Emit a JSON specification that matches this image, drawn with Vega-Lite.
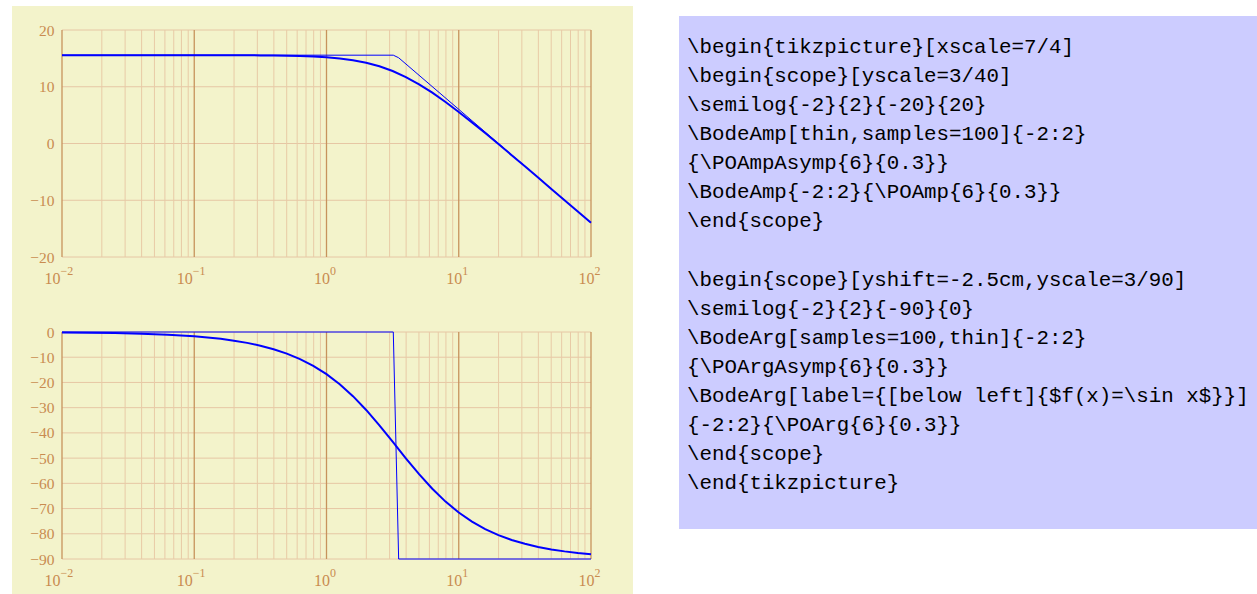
{
  "$schema": "https://vega.github.io/schema/vega-lite/v6.json",
  "padding": {"left": 11, "top": 6, "right": 0, "bottom": 0},
  "background": "white",
  "spacing": 46,
  "config": {
    "view": {"stroke": null},
    "axis": {
      "grid": false, "domain": false, "ticks": false, "tickSize": 0,
      "labelFont": "Liberation Serif, DejaVu Serif, serif", "labelFontSize": 15.5,
      "labelColor": "#c98b50", "zindex": 2, "labelFlush": false, "labelOverlap": false, "labelBound": false, "labelSeparation": 0
    },
    "axisX": {"labelPadding": 12},
    "axisY": {"labelPadding": 8}
  },
  "datasets": {
    "bgTop": [{"x1": 0.004187, "x2": 207.7, "y1": -26.696, "y2": 24.229}],
    "bgBottom": [{"x1": 0.004187, "x2": 207.7, "y1": -103.88, "y2": 15.46}],
    "bgCode": [{"x1": -0.64, "x2": 45.76, "y1": -0.066, "y2": 17.581}],
    "vgrid": [
      {"x": 0.01, "major": true}, {"x": 0.02, "major": false}, {"x": 0.03, "major": false}, {"x": 0.04, "major": false}, {"x": 0.05, "major": false}, {"x": 0.06, "major": false}, {"x": 0.07, "major": false}, {"x": 0.08, "major": false}, {"x": 0.09, "major": false},
      {"x": 0.1, "major": true}, {"x": 0.2, "major": false}, {"x": 0.3, "major": false}, {"x": 0.4, "major": false}, {"x": 0.5, "major": false}, {"x": 0.6, "major": false}, {"x": 0.7, "major": false}, {"x": 0.8, "major": false}, {"x": 0.9, "major": false},
      {"x": 1, "major": true}, {"x": 2, "major": false}, {"x": 3, "major": false}, {"x": 4, "major": false}, {"x": 5, "major": false}, {"x": 6, "major": false}, {"x": 7, "major": false}, {"x": 8, "major": false}, {"x": 9, "major": false},
      {"x": 10, "major": true}, {"x": 20, "major": false}, {"x": 30, "major": false}, {"x": 40, "major": false}, {"x": 50, "major": false}, {"x": 60, "major": false}, {"x": 70, "major": false}, {"x": 80, "major": false}, {"x": 90, "major": false},
      {"x": 100, "major": true}
    ],
    "hgridTop": [{"y": -20}, {"y": -10}, {"y": 0}, {"y": 10}, {"y": 20}],
    "hgridBottom": [{"y": -90}, {"y": -80}, {"y": -70}, {"y": -60}, {"y": -50}, {"y": -40}, {"y": -30}, {"y": -20}, {"y": -10}, {"y": 0}],
    "ampAsym": [{"x": 0.01, "y": 15.563}, {"x": 3.1992, "y": 15.563}, {"x": 3.5124, "y": 15.109}, {"x": 100, "y": -13.984}],
    "amp": [
      {"x": 0.01, "y": 15.563}, {"x": 0.031623, "y": 15.563}, {"x": 0.1, "y": 15.559}, {"x": 0.12589, "y": 15.557},
      {"x": 0.15849, "y": 15.553}, {"x": 0.19953, "y": 15.547}, {"x": 0.25119, "y": 15.538}, {"x": 0.31623, "y": 15.524},
      {"x": 0.39811, "y": 15.501}, {"x": 0.50119, "y": 15.466}, {"x": 0.63096, "y": 15.41}, {"x": 0.79433, "y": 15.323},
      {"x": 1, "y": 15.189}, {"x": 1.2589, "y": 14.984}, {"x": 1.5849, "y": 14.678}, {"x": 1.9953, "y": 14.233},
      {"x": 2.5119, "y": 13.61}, {"x": 3.1623, "y": 12.776}, {"x": 3.9811, "y": 11.713}, {"x": 5.0119, "y": 10.43},
      {"x": 6.3096, "y": 8.951}, {"x": 7.9433, "y": 7.316}, {"x": 10, "y": 5.563}, {"x": 12.589, "y": 3.726},
      {"x": 15.849, "y": 1.833}, {"x": 19.953, "y": -0.099}, {"x": 25.119, "y": -2.055}, {"x": 31.623, "y": -4.027},
      {"x": 39.811, "y": -6.01}, {"x": 50.119, "y": -7.999}, {"x": 63.096, "y": -9.992}, {"x": 79.433, "y": -11.987},
      {"x": 100, "y": -13.984}
    ],
    "argAsym": [{"x": 0.01, "y": 0}, {"x": 3.1992, "y": 0}, {"x": 3.5124, "y": -90}, {"x": 100, "y": -90}],
    "arg": [
      {"x": 0.01, "y": -0.172}, {"x": 0.015849, "y": -0.272}, {"x": 0.025119, "y": -0.432}, {"x": 0.039811, "y": -0.684},
      {"x": 0.063096, "y": -1.084}, {"x": 0.1, "y": -1.718}, {"x": 0.12589, "y": -2.163}, {"x": 0.15849, "y": -2.722},
      {"x": 0.19953, "y": -3.426}, {"x": 0.25119, "y": -4.31}, {"x": 0.31623, "y": -5.419}, {"x": 0.39811, "y": -6.81},
      {"x": 0.50119, "y": -8.551}, {"x": 0.63096, "y": -10.72}, {"x": 0.79433, "y": -13.4}, {"x": 1, "y": -16.7},
      {"x": 1.2589, "y": -20.69}, {"x": 1.5849, "y": -25.43}, {"x": 1.9953, "y": -30.9}, {"x": 2.5119, "y": -37.0},
      {"x": 3.1623, "y": -43.49}, {"x": 3.9811, "y": -50.06}, {"x": 5.0119, "y": -56.37}, {"x": 6.3096, "y": -62.15},
      {"x": 7.9433, "y": -67.24}, {"x": 10, "y": -71.57}, {"x": 12.589, "y": -75.17}, {"x": 15.849, "y": -78.12},
      {"x": 19.953, "y": -80.52}, {"x": 25.119, "y": -82.44}, {"x": 31.623, "y": -83.98}, {"x": 39.811, "y": -85.21},
      {"x": 50.119, "y": -86.19}, {"x": 63.096, "y": -86.98}, {"x": 79.433, "y": -87.6}, {"x": 100, "y": -88.09}
    ],
    "code": [
      {"line": 1, "indent": 0, "text": "\\begin{tikzpicture}[xscale=7/4]"},
      {"line": 2, "indent": 0, "text": "\\begin{scope}[yscale=3/40]"},
      {"line": 3, "indent": 0, "text": "\\semilog{-2}{2}{-20}{20}"},
      {"line": 4, "indent": 0, "text": "\\BodeAmp[thin,samples=100]{-2:2}"},
      {"line": 5, "indent": 0, "text": "{\\POAmpAsymp{6}{0.3}}"},
      {"line": 6, "indent": 0, "text": "\\BodeAmp{-2:2}{\\POAmp{6}{0.3}}"},
      {"line": 7, "indent": 0, "text": "\\end{scope}"},
      {"line": 9, "indent": 0, "text": "\\begin{scope}[yshift=-2.5cm,yscale=3/90]"},
      {"line": 10, "indent": 0, "text": "\\semilog{-2}{2}{-90}{0}"},
      {"line": 11, "indent": 0, "text": "\\BodeArg[samples=100,thin]{-2:2}"},
      {"line": 12, "indent": 0, "text": "{\\POArgAsymp{6}{0.3}}"},
      {"line": 13, "indent": 0, "text": "\\BodeArg[label={[below left]{$f(x)=\\sin x$}}]"},
      {"line": 14, "indent": 0, "text": "{-2:2}{\\POArg{6}{0.3}}"},
      {"line": 15, "indent": 0, "text": "\\end{scope}"},
      {"line": 16, "indent": 0, "text": "\\end{tikzpicture}"}
    ]
  },
  "hconcat": [
    {
      "spacing": -2,
      "vconcat": [
        {
          "width": 529, "height": 227,
          "resolve": {"axis": {"x": "independent"}},
          "layer": [
            {
              "data": {"name": "bgTop"},
              "mark": {"type": "rect", "color": "#f3f3cb", "clip": false},
              "encoding": {
                "x": {"field": "x1", "type": "quantitative", "title": null,
                      "scale": {"type": "log", "domain": [0.01, 100], "nice": false},
                      "axis": {"orient": "bottom", "zindex": 2, "values": [0.01, 0.1, 1, 10, 100], "labelExpr": "'10'", "labelAlign": "right", "labelPadding": 13, "labelFontSize": 16, "labelOverlap": false,
                               "labelOffset": {"condition": {"test": "datum.value < 0.5", "value": -2}, "value": 3}}},
                "x2": {"field": "x2"},
                "y": {"field": "y1", "type": "quantitative", "title": null,
                      "scale": {"domain": [-20, 20], "nice": false, "zero": false},
                      "axis": {"zindex": 2, "values": [-20, -10, 0, 10, 20], "labelOverlap": false}},
                "y2": {"field": "y2"}
              }
            },
            {
              "data": {"name": "hgridTop"},
              "mark": {"type": "rule", "color": "#e6c6a4", "strokeWidth": 1},
              "encoding": {"y": {"field": "y", "type": "quantitative", "title": null, "axis": {"zindex": 2, "values": [-20, -10, 0, 10, 20], "labelOverlap": false}}}
            },
            {
              "data": {"name": "vgrid"},
              "mark": {"type": "rule"},
              "encoding": {
                "x": {"field": "x", "type": "quantitative", "title": null,
                      "axis": {"orient": "bottom", "zindex": 2, "values": [0.01, 0.1, 1, 10, 100], "labelExpr": "datum.value < 0.05 ? '−2' : datum.value < 0.5 ? '−1' : datum.value < 5 ? '0' : datum.value < 50 ? '1' : '2'", "labelAlign": "left", "labelPadding": 8, "labelFontSize": 12, "labelOverlap": false,
                               "labelOffset": {"condition": {"test": "datum.value < 0.5", "value": -2}, "value": 3}}},
                "color": {"condition": {"test": "datum.major", "value": "#c7935c"}, "value": "#e8caa6"},
                "strokeWidth": {"condition": {"test": "datum.major", "value": 1.3}, "value": 1}
              }
            },
            {
              "data": {"name": "ampAsym"},
              "mark": {"type": "line", "color": "#0000ff", "strokeWidth": 1},
              "encoding": {"x": {"field": "x", "type": "quantitative", "title": null, "axis": null}, "y": {"field": "y", "type": "quantitative", "title": null, "axis": {"zindex": 2, "values": [-20, -10, 0, 10, 20], "labelOverlap": false}}}
            },
            {
              "data": {"name": "amp"},
              "mark": {"type": "line", "color": "#0000ff", "strokeWidth": 2},
              "encoding": {"x": {"field": "x", "type": "quantitative", "title": null, "axis": null}, "y": {"field": "y", "type": "quantitative", "title": null, "axis": {"zindex": 2, "values": [-20, -10, 0, 10, 20], "labelOverlap": false}}}
            }
          ]
        },
        {
          "width": 529, "height": 227,
          "resolve": {"axis": {"x": "independent"}},
          "layer": [
            {
              "data": {"name": "bgBottom"},
              "mark": {"type": "rect", "color": "#f3f3cb", "clip": false},
              "encoding": {
                "x": {"field": "x1", "type": "quantitative", "title": null,
                      "scale": {"type": "log", "domain": [0.01, 100], "nice": false},
                      "axis": {"orient": "bottom", "zindex": 2, "values": [0.01, 0.1, 1, 10, 100], "labelExpr": "'10'", "labelAlign": "right", "labelPadding": 13, "labelFontSize": 16, "labelOverlap": false,
                               "labelOffset": {"condition": {"test": "datum.value < 0.5", "value": -2}, "value": 3}}},
                "x2": {"field": "x2"},
                "y": {"field": "y1", "type": "quantitative", "title": null,
                      "scale": {"domain": [-90, 0], "nice": false, "zero": false},
                      "axis": {"zindex": 2, "values": [-90, -80, -70, -60, -50, -40, -30, -20, -10, 0], "labelOverlap": false}},
                "y2": {"field": "y2"}
              }
            },
            {
              "data": {"name": "hgridBottom"},
              "mark": {"type": "rule", "color": "#e6c6a4", "strokeWidth": 1},
              "encoding": {"y": {"field": "y", "type": "quantitative", "title": null, "axis": {"zindex": 2, "values": [-90, -80, -70, -60, -50, -40, -30, -20, -10, 0], "labelOverlap": false}}}
            },
            {
              "data": {"name": "vgrid"},
              "mark": {"type": "rule"},
              "encoding": {
                "x": {"field": "x", "type": "quantitative", "title": null,
                      "axis": {"orient": "bottom", "zindex": 2, "values": [0.01, 0.1, 1, 10, 100], "labelExpr": "datum.value < 0.05 ? '−2' : datum.value < 0.5 ? '−1' : datum.value < 5 ? '0' : datum.value < 50 ? '1' : '2'", "labelAlign": "left", "labelPadding": 8, "labelFontSize": 12, "labelOverlap": false,
                               "labelOffset": {"condition": {"test": "datum.value < 0.5", "value": -2}, "value": 3}}},
                "color": {"condition": {"test": "datum.major", "value": "#c7935c"}, "value": "#e8caa6"},
                "strokeWidth": {"condition": {"test": "datum.major", "value": 1.3}, "value": 1}
              }
            },
            {
              "data": {"name": "argAsym"},
              "mark": {"type": "line", "color": "#0000ff", "strokeWidth": 1},
              "encoding": {"x": {"field": "x", "type": "quantitative", "title": null, "axis": null}, "y": {"field": "y", "type": "quantitative", "title": null, "axis": {"zindex": 2, "values": [-90, -80, -70, -60, -50, -40, -30, -20, -10, 0], "labelOverlap": false}}}
            },
            {
              "data": {"name": "arg"},
              "mark": {"type": "line", "color": "#0000ff", "strokeWidth": 2},
              "encoding": {"x": {"field": "x", "type": "quantitative", "title": null, "axis": null}, "y": {"field": "y", "type": "quantitative", "title": null, "axis": {"zindex": 2, "values": [-90, -80, -70, -60, -50, -40, -30, -20, -10, 0], "labelOverlap": false}}}
            }
          ]
        }
      ]
    },
    {
      "width": 580, "height": 499,
      "layer": [
        {
          "data": {"name": "bgCode"},
          "mark": {"type": "rect", "color": "#ccccff", "clip": false},
          "encoding": {
            "x": {"field": "x1", "type": "quantitative", "axis": null, "scale": {"domain": [-0.64, 45.76], "nice": false, "zero": false}},
            "x2": {"field": "x2"},
            "y": {"field": "y1", "type": "quantitative", "axis": null, "scale": {"domain": [0.4152, 17.581], "reverse": true, "nice": false, "zero": false}},
            "y2": {"field": "y2"}
          }
        },
        {
          "data": {"name": "code"},
          "mark": {"type": "text", "align": "left", "baseline": "middle", "font": "Liberation Mono", "fontSize": 20.8, "color": "#000000"},
          "encoding": {
            "x": {"field": "indent", "type": "quantitative", "axis": null},
            "y": {"field": "line", "type": "quantitative", "axis": null},
            "text": {"field": "text"}
          }
        }
      ]
    }
  ]
}
